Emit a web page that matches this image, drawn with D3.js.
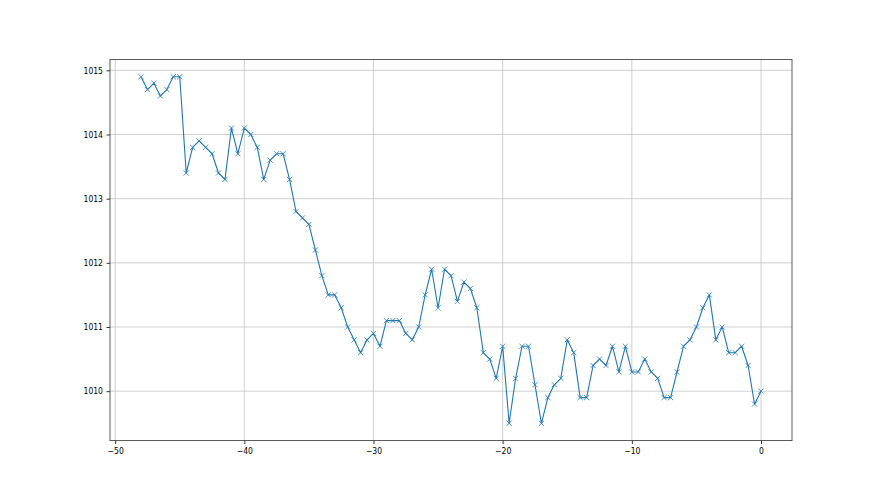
<!DOCTYPE html>
<html>
<head>
<meta charset="utf-8">
<script src="https://cdn.jsdelivr.net/npm/d3@7"></script>
<style>
  body { margin: 0; background: #fff; }
  svg { display: block; }
  .tick text { font-family: "DejaVu Sans Condensed", "Liberation Sans Narrow", "DejaVu Sans", sans-serif; font-size: 8.5px; fill: #000; }
</style>
</head>
<body>
<svg width="880" height="495"></svg>
<script>
// hours before now, pressure in hPa
var hours = d3.range(97).map(i => -48 + i * 0.5);
var pressure = [
  1014.9, 1014.7, 1014.8, 1014.6, 1014.7, 1014.9, 1014.9, 1013.4, 1013.8, 1013.9,
  1013.8, 1013.7, 1013.4, 1013.3, 1014.1, 1013.7, 1014.1, 1014.0, 1013.8, 1013.3,
  1013.6, 1013.7, 1013.7, 1013.3, 1012.8, 1012.7, 1012.6, 1012.2, 1011.8, 1011.5,
  1011.5, 1011.3, 1011.0, 1010.8, 1010.6, 1010.8, 1010.9, 1010.7, 1011.1, 1011.1,
  1011.1, 1010.9, 1010.8, 1011.0, 1011.5, 1011.9, 1011.3, 1011.9, 1011.8, 1011.4,
  1011.7, 1011.6, 1011.3, 1010.6, 1010.5, 1010.2, 1010.7, 1009.5, 1010.2, 1010.7,
  1010.7, 1010.1, 1009.5, 1009.9, 1010.1, 1010.2, 1010.8, 1010.6, 1009.9, 1009.9,
  1010.4, 1010.5, 1010.4, 1010.7, 1010.3, 1010.7, 1010.3, 1010.3, 1010.5, 1010.3,
  1010.2, 1009.9, 1009.9, 1010.3, 1010.7, 1010.8, 1011.0, 1011.3, 1011.5, 1010.8,
  1011.0, 1010.6, 1010.6, 1010.7, 1010.4, 1009.8, 1010.0
];
var xTicks = [-50, -40, -30, -20, -10, 0];
var yTicks = [1010, 1011, 1012, 1013, 1014, 1015];

var svg = d3.select('svg');
var plotLeft = 110, plotRight = 792, plotTop = 59.4, plotBottom = 440.6;

var data = hours.map((h, i) => [h, pressure[i]]);

var xPad = (d3.max(hours) - d3.min(hours)) * 0.05;
var yPad = (d3.max(pressure) - d3.min(pressure)) * 0.05;

var x = d3.scaleLinear()
  .domain([d3.min(hours) - xPad, d3.max(hours) + xPad])
  .range([plotLeft, plotRight]);
var y = d3.scaleLinear()
  .domain([d3.min(pressure) - yPad, d3.max(pressure) + yPad])
  .range([plotBottom, plotTop]);

// grid
svg.append('g').selectAll('line')
  .data(xTicks).enter().append('line')
  .attr('x1', d => x(d)).attr('x2', d => x(d))
  .attr('y1', plotTop).attr('y2', plotBottom)
  .attr('stroke', '#c4c4c4').attr('stroke-width', 0.8);
svg.append('g').selectAll('line')
  .data(yTicks).enter().append('line')
  .attr('x1', plotLeft).attr('x2', plotRight)
  .attr('y1', d => y(d)).attr('y2', d => y(d))
  .attr('stroke', '#c4c4c4').attr('stroke-width', 0.8);

// axes
var xAxis = svg.append('g')
  .attr('transform', 'translate(0,' + plotBottom + ')')
  .call(d3.axisBottom(x).tickValues(xTicks).tickSize(3.5).tickPadding(3.5)
    .tickFormat(d => d < 0 ? '\u2212' + Math.abs(d) : d));
var yAxis = svg.append('g')
  .attr('transform', 'translate(' + plotLeft + ',0)')
  .call(d3.axisLeft(y).tickValues(yTicks).tickSize(3.5).tickPadding(3.5)
    .tickFormat(d3.format('d')));
[xAxis, yAxis].forEach(a => {
  a.select('.domain').remove();
  a.selectAll('.tick line').attr('stroke', '#000').attr('stroke-width', 0.8);
});

// frame
svg.append('rect')
  .attr('x', plotLeft).attr('y', plotTop)
  .attr('width', plotRight - plotLeft).attr('height', plotBottom - plotTop)
  .attr('fill', 'none').attr('stroke', '#333').attr('stroke-width', 0.8);

// line
svg.append('path')
  .datum(data)
  .attr('d', d3.line().x(d => x(d[0])).y(d => y(d[1])))
  .attr('fill', 'none')
  .attr('stroke', '#1f77b4')
  .attr('stroke-width', 1.1)
  .attr('stroke-linejoin', 'round');

// x markers
var m = 2.6;
svg.append('g').selectAll('path')
  .data(data).enter().append('path')
  .attr('d', d => {
    var cx = x(d[0]), cy = y(d[1]);
    return 'M' + (cx - m) + ',' + (cy - m) + 'L' + (cx + m) + ',' + (cy + m) +
      'M' + (cx - m) + ',' + (cy + m) + 'L' + (cx + m) + ',' + (cy - m);
  })
  .attr('stroke', '#1f77b4')
  .attr('stroke-width', 0.8);
</script>
</body>
</html>
